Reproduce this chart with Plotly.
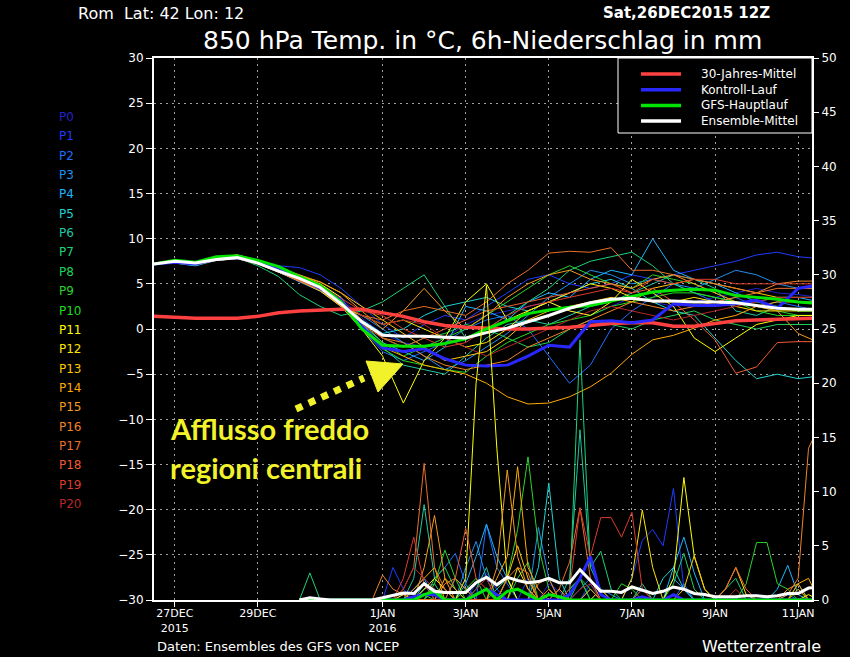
import plotly.graph_objects as go
import pandas as pd

# ---------------- time axes ----------------
temp_times = pd.date_range("2015-12-26 12:00", periods=33, freq="12h")
precip_times = pd.date_range("2015-12-30 00:00", periods=51, freq="6h")

tick_dates = ["2015-12-27", "2015-12-29", "2016-01-01", "2016-01-03",
              "2016-01-05", "2016-01-07", "2016-01-09", "2016-01-11"]
tick_labels = ["27DEC<br>2015", "29DEC", "1JAN<br>2016", "3JAN",
               "5JAN", "7JAN", "9JAN", "11JAN"]

member_names = [f"P{i}" for i in range(21)]
member_colors = ["#2222cc", "#1e3cff", "#1e6eff", "#2090ee", "#1eb4ff", "#1ed2d2",
                 "#1ec8a0", "#1ed278", "#1ed25a", "#2ad22a", "#1edc1e", "#ffff00",
                 "#ffe600", "#ffc800", "#ffaa00", "#f59a1e", "#f08228", "#e8702a",
                 "#f05a32", "#dc3c2c", "#b42828"]

# ---------------- 850 hPa temperature (°C), 12-hourly ----------------
temp_P0 = [7.2,7.4,7.1,7.8,8.0,7.4,6.6,5.5,4.8,3.5,1.2,-0.5,-1.5,-2.0,-1.0,0.5,1.5,2.0,2.5,3.0,2.0,1.5,2.5,3.5,3.0,2.5,3.0,3.5,4.0,4.5,4.0,3.8,3.5]
temp_P1 = [7.2,7.5,7.2,7.9,8.1,7.6,7.0,6.8,6.0,4.5,2.5,0.5,-1.0,0.5,1.5,1.0,2.5,4.0,5.5,6.0,5.0,4.5,5.0,6.0,5.5,6.0,6.5,7.0,7.5,8.2,8.5,8.0,7.8]
temp_P2 = [7.2,7.3,7.0,7.7,7.9,7.3,6.3,5.2,4.2,2.5,0.0,-2.5,-3.5,-2.5,-1.5,0.0,1.0,1.5,0.0,-3.0,-6.0,-4.0,0.0,2.0,3.5,5.0,4.0,3.0,3.5,2.5,3.0,2.5,2.0]
temp_P3 = [7.2,7.6,7.3,7.6,7.8,7.2,6.5,5.8,4.5,3.0,1.5,0.0,-1.5,-3.0,-4.5,-3.5,-2.0,-0.5,1.5,3.5,5.0,6.5,6.0,5.0,5.5,5.0,4.5,5.5,6.5,6.0,5.0,4.5,4.5]
temp_P4 = [7.2,7.5,7.2,7.8,7.9,7.3,6.4,5.4,4.4,2.8,0.5,-1.5,-2.5,-3.5,-2.0,2.5,2.0,1.0,3.0,4.0,3.5,5.5,6.5,6.0,10.0,6.5,5.5,5.0,4.0,3.0,3.5,3.5,3.0]
temp_P5 = [7.2,7.3,7.0,7.6,7.8,7.2,6.3,5.3,4.3,2.5,1.0,-0.5,0.0,1.5,2.5,3.0,3.5,2.5,2.0,3.0,4.0,5.0,5.5,4.5,3.0,2.0,1.5,-1.0,-3.5,-5.5,-5.0,-5.5,-5.2]
temp_P6 = [7.2,7.5,7.3,7.8,8.1,7.5,6.6,5.6,4.6,3.0,0.5,-2.0,-4.0,-4.5,-5.0,-3.0,-1.0,0.5,1.0,0.5,1.5,2.5,3.0,4.0,5.0,6.0,5.5,4.5,2.0,1.5,2.5,2.0,2.0]
temp_P7 = [7.2,7.6,7.4,7.7,7.9,7.0,5.8,3.8,2.5,1.5,2.0,3.0,4.5,6.0,2.5,-1.0,0.0,1.5,3.0,4.5,6.5,7.5,8.0,8.5,7.0,5.0,4.0,3.5,3.0,3.0,2.5,2.0,2.0]
temp_P8 = [7.2,7.4,7.2,7.9,8.1,7.4,6.5,5.7,4.8,3.2,1.0,-1.0,-2.0,-1.0,-0.5,0.5,0.0,-1.0,-2.0,-1.5,0.0,1.0,0.5,0.0,1.0,1.5,2.0,1.0,0.5,0.0,0.5,0.5,0.5]
temp_P9 = [7.2,7.5,7.3,7.7,8.0,7.3,6.4,5.5,4.6,3.0,0.8,-1.5,-3.0,-2.0,-1.0,0.0,1.5,3.0,4.5,6.0,7.0,6.0,5.0,4.5,6.0,5.5,5.0,4.0,3.0,2.5,2.0,1.5,1.5]
temp_P10 = [7.2,7.3,7.1,7.8,8.0,7.4,6.5,5.6,4.5,2.8,0.2,-2.2,-3.5,-4.0,-4.5,-4.8,-3.0,-1.5,-0.5,0.5,1.0,1.5,2.5,3.0,3.5,4.0,4.0,3.5,3.0,2.0,1.5,1.5,1.5]
temp_P11 = [7.2,7.6,7.4,7.9,8.2,7.6,6.7,5.9,5.0,3.5,0.0,-3.0,-8.2,-3.5,-1.0,3.0,5.0,1.0,2.0,3.0,2.0,1.5,3.0,5.5,4.0,2.5,-1.0,-2.5,-1.0,0.5,1.0,1.5,1.5]
temp_P12 = [7.2,7.5,7.3,7.7,8.0,7.3,6.3,5.3,4.2,2.5,1.5,0.5,1.0,0.0,-1.0,-2.0,-1.5,0.0,2.0,3.0,4.0,5.0,4.5,3.5,3.0,3.0,3.5,3.0,2.5,2.0,2.0,2.0,2.0]
temp_P13 = [7.2,7.4,7.2,7.8,7.9,7.3,6.6,5.9,5.2,4.0,2.5,1.0,-0.5,-2.0,-3.5,-3.0,-2.5,-1.0,1.0,2.0,2.5,3.0,3.5,3.0,4.5,5.0,5.5,5.0,4.5,4.0,3.5,3.5,3.5]
temp_P14 = [7.2,7.5,7.3,7.8,8.1,7.5,6.5,5.5,4.4,2.5,0.0,-2.0,-3.0,-4.0,-4.5,-5.0,-6.0,-7.5,-8.3,-8.2,-7.5,-6.4,-4.9,-2.8,-1.2,-0.7,0.1,1.0,1.5,2.5,3.0,3.0,3.0]
temp_P15 = [7.2,7.6,7.4,7.9,8.2,7.6,6.8,6.0,5.2,4.0,2.0,0.0,2.0,4.5,2.0,0.0,1.5,3.5,5.0,6.0,6.5,5.5,5.0,4.5,5.5,6.0,5.0,4.0,3.0,2.5,2.0,-0.5,-1.5]
temp_P16 = [7.2,7.4,7.2,7.8,8.0,7.4,6.5,5.5,4.6,3.2,1.0,-1.0,-1.5,-3.0,-4.0,-4.5,-4.0,-3.5,-2.0,-1.0,0.0,1.0,2.0,3.0,2.5,2.0,2.5,3.0,3.5,4.0,5.0,5.3,5.3]
temp_P17 = [7.2,7.5,7.3,7.7,7.9,7.2,6.3,5.3,4.3,2.8,1.5,1.0,2.0,2.5,2.0,1.5,3.0,5.0,6.5,8.4,8.6,8.5,9.0,6.5,6.5,6.0,5.5,5.0,4.5,4.0,4.5,4.5,4.5]
temp_P18 = [7.2,7.3,7.1,7.6,7.8,7.2,6.4,5.4,4.4,2.6,0.5,-1.0,-2.0,-1.0,0.0,1.0,2.0,2.5,3.0,3.5,4.0,4.5,5.0,4.0,4.5,3.0,1.0,-1.2,-4.9,-4.2,-1.5,-1.4,-1.4]
temp_P19 = [7.2,7.5,7.2,7.8,8.0,7.5,6.6,5.7,4.7,3.4,2.0,1.5,0.0,-1.0,-2.0,-1.5,0.0,1.5,2.5,3.0,3.5,4.0,4.5,4.0,5.5,5.0,5.5,5.5,5.0,5.0,5.0,5.0,5.0]
temp_P20 = [7.2,7.4,7.3,7.9,8.1,7.5,6.7,5.8,4.8,3.0,1.5,0.5,1.0,0.5,-1.0,-2.0,-3.0,-2.0,-1.0,0.0,1.0,2.0,2.5,2.0,1.5,1.0,1.5,2.0,2.5,3.0,3.5,3.5,3.5]

temp_climate = [1.4,1.3,1.2,1.2,1.2,1.4,1.8,2.0,2.1,2.2,2.2,1.8,1.4,0.8,0.4,0.2,0.1,0.0,0.0,0.1,0.2,0.4,0.6,0.7,0.7,0.3,0.3,0.6,0.9,1.0,1.1,1.2,1.2]
temp_control = [7.2,7.4,7.2,7.8,7.9,7.4,6.6,5.7,4.5,3.2,0.3,-2.1,-2.5,-2.2,-3.3,-4.0,-4.1,-4.0,-3.0,-1.8,-2.0,0.8,0.9,0.7,1.0,2.8,2.6,2.6,2.8,3.2,2.3,4.5,4.9]
temp_gfs = [7.2,7.6,7.4,8.0,8.1,7.6,6.9,5.8,4.8,3.0,0.0,-1.8,-1.9,-1.9,-1.6,-1.1,0.0,0.9,1.7,2.1,2.4,2.6,3.1,3.6,4.1,4.3,4.4,4.3,3.7,3.5,3.3,3.0,2.8]
temp_mean = [7.2,7.5,7.3,7.7,7.9,7.3,6.4,5.6,4.6,2.8,0.8,-0.7,-0.8,-0.8,-0.9,-1.0,-0.4,0.1,0.8,1.5,2.3,2.9,3.3,3.4,3.1,3.1,3.0,3.0,2.9,2.6,2.3,2.2,2.2]

# ---------------- 6h precipitation (mm), 6-hourly from 30DEC 00Z ----------------
prec_P0 = [0,0,0,0,0,0,0,0,0,0, 0.5,1.0,2.0,1.0,0,0,0,1.5,2.5,1.0, 0,0,0,0,1.5,0.8,0,0,0,0, 0,0,0,1.0,0,0,0.5,0,0,0, 0,0,0,0,0,0,0,0,0,0,0]
prec_P1 = [0,0,0,0,0,0,0,0,0,3.0, 1.0,0,0,0,0,0,0,1.0,2.0,1.0, 0,0,2.0,1.0,0,0,0,0,1.5,0, 0,0,2.0,5.5,6.5,5.0,10.3,1.0,0,0, 0,0,0,0,0.5,0,0,0,0,0,0]
prec_P2 = [0,0,0,0,0,0,0,0,0,0, 0,0,1.0,2.0,3.0,4.3,1.5,0,7.0,3.0, 1.5,0,0,0,0,0,0,1.0,2.0,0, 0,0,0,0,0,0,0,1.5,0,0, 0,0,0,0,0,0,0,0.5,0,0,0]
prec_P3 = [0,0,0,0,0,0,0,0,0,0, 0,0,0,1.0,0,0,3.0,5.4,2.0,0, 0,0,0,6.7,2.0,0,0,0,0,1.0, 0.5,0,0,0,0,0,2.0,1.0,0,0, 0,0,0,0,0,0,0,0,0,0,0]
prec_P4 = [0,0,0,0,0,0,0,0,0,0, 0,1.0,2.0,0,0,0,1.5,4.0,7.0,4.0, 2.0,0,0,0,0,0,1.0,2.0,0,0, 0,0,0,0,0,0,3.0,5.8,2.5,0, 0,0,0,0,0,0,1.0,3.2,0.5,0,0]
prec_P5 = [0,0,0,0,0,0,0,0,0,0, 0,0,1.5,1.0,0,2.0,1.0,0,0,0, 0,0,0,3.0,10.8,2.0,0,0,1.0,0, 0,0,0,0,0,2.0,3.0,1.0,0,0, 0,0,0,0,0,0,0,0,0,0,0]
prec_P6 = [0,0,0,0,0,0,0,0,0,0, 0,2.0,8.8,2.0,1.0,0,0,1.0,3.0,0, 0,0,0,0,0,0,2.0,15.7,3.0,1.0, 0,0,0,1.5,0,0,0,0,0,0, 0,0,0,0,0,0,0,0,0,0,0]
prec_P7 = [0,2.5,0,0,0,0,0,0,0,0, 0,0,1.0,1.5,0,0,0,0,0,1.0, 2.0,0,0,0,0,0,0.5,24.0,3.0,4.5, 1.0,0,0,0,0,0,0,0,0,0, 0,1.0,2.0,0,0,0,0,0,0,0,0]
prec_P8 = [0,0,0,0,0,0,0,0,0,0, 0,0,0,2.0,3.0,1.0,0,0,0,0, 0,2.0,3.5,0,0,0,0,2.0,1.0,0, 0,0,0,0,0,0,1.5,4.3,1.0,0, 0,0,0,0,0,0,0,0,1.5,0,0]
prec_P9 = [0,0,0,0,0,0,0,0,0,0, 0,0,0,1.5,4.6,2.0,0,0,0,0, 2.0,6.5,13.2,5.0,1.0,0,0,0,0,0, 0,0,0,0,0,0,0,0,0,0, 0,0,0,1.5,5.3,5.3,1.5,1.0,0,0,0]
prec_P10 = [0,0,0,0,0,0,0,0,0,0, 0,0,0.5,0,0,0,1.0,2.0,0,0, 0,0,0,0,0,0,1.0,2.0,0,0, 0,1.5,1.0,0,0,0,0,0,0,0, 0,0,0,0,0,0,0,0,0,0,0]
prec_P11 = [0,0,0,0,0,0,0,0,0,0, 0.5,0,0,0,0,0,2.0,20.0,29.0,14.0, 2.0,0,0,0,1.0,0,0,0,0,0, 0,0,0,0,0,0,2.0,11.3,4.0,1.0, 0,0,0,0,0,0,0,0,0,0.5,0]
prec_P12 = [0,0,0,0,0,0,0,0,0,0, 0,0,1.0,2.0,1.0,0,0,0,0,0, 0,3.0,1.0,0,0,0,0,0,0,0, 0,0,2.0,8.3,3.0,0,0,0,0,0, 0,1.0,3.0,0.5,0,0,0,0,0,0,0]
prec_P13 = [0,0,0,0,0,0,0,0,0,0, 0,0,0,0,2.0,1.0,0,0,0,0, 2.0,5.0,2.0,0,0,0,0,0,0,1.0, 0,0,0,0,0,0,0,1.0,4.1,1.0, 0,0,0,0,0,0,0,0,1.0,0,0]
prec_P14 = [0,0,0,0,0,0,0,0,0,0, 0,1.0,2.0,3.0,0,0,0,0,0,2.0, 4.0,12.3,3.0,1.0,0,1.0,0,0,0,0, 0,0,0,0,0,0,0,0,0,0, 0,0,0,0,0,0,0,0,1.5,2.0,0]
prec_P15 = [0,0,0,0,0,0,0,0,0,0, 0,0,3.0,7.8,2.0,0,0,0,0,3.0, 12.0,4.0,1.0,0,0,0,0,0,1.0,0, 0,0,0,0,0,0,0,0,0,0, 0,0,0,0,0,0,0,1.0,1.5,0,0]
prec_P16 = [0,0,0,0,0,0,0,0,2.3,1.0, 0.5,0,0,0,1.5,2.0,1.0,0,0,0, 0,0,0,1.5,2.0,0,0,0,0,0, 0,0,0,0,0,0,0,0,0,0, 0,0,0,0,0,0,0,0.5,2.0,14.0,16.0]
prec_P17 = [0,0,0,0,0,0,0,0,0,0, 1.0,3.0,12.6,3.0,1.0,0,0,0,0,0, 2.0,3.0,2.5,0,0,1.0,3.5,8.5,2.0,0, 0,0,0,1.0,0,0,0,0,0,0, 0,0,0,0,0,0,0,0,0,0,0]
prec_P18 = [0,0,0,0,0,0,0,0,0,0, 0,0,0,0,0,2.0,6.6,2.0,1.0,0, 0,0,0,0,1.0,0,0,0,0,0, 0,0,0,0,0,0,0,0,0,0, 0,1.0,3.0,1.0,0,0,0,0,0,0,0]
prec_P19 = [0,0,0,0,0,0,0,0,0,0, 2.0,5.8,1.5,0,0,0,0,0,0,0, 0,0,0,0,0,0,1.0,8.5,4.0,7.6, 7.6,5.8,8.1,1.0,0,0,0,0,0,0, 0,0,0,0,0,0,0,0,0,0,0]
prec_P20 = [0,0,0,0,0,0,0,0,0,0, 1.0,3.0,2.0,1.0,0,0,0,1.0,2.0,0, 0,0,0,0,0,0,0,1.0,1.5,0, 0,0,0,0,0,0,0,0,0,0, 0,0,1.0,0,0,0,0,0,0,0,0]

prec_control = [0,0,0,0,0,0,0,0,0,0, 0,0.3,0.5,0.5,0,0,0,0.5,1.0,0.5, 0,0,0,0,0,0,0.5,2.0,4.0,0.5, 0,0,0,0.3,0,0,0.5,0,0,0, 0,0,0,0,0,0,0,0,0,0,0]
prec_gfs = [0,0,0,0,0,0,0,0,0,0, 0,0,0.5,0.8,0,0,0,0.5,1.0,0, 0.8,1.0,0.5,0,0.5,0.3,0,0,0,0, 0,0,0,0,0,0,0,0,0,0, 0,0,0,0,0,0,0,0,0,0,0]
prec_mean = [0,0.2,0.1,0,0,0,0,0,0.2,0.4, 0.65,0.6,1.5,0.8,0.7,0.7,0.7,1.6,2.1,1.4, 2.1,1.8,1.6,1.7,2.0,1.6,1.6,2.8,1.8,0.8, 0.8,0.7,1.2,0.9,0.6,0.8,1.2,1.0,0.6,0.5, 0.3,0.3,0.3,0.4,0.4,0.3,0.4,0.6,0.6,1.1,1.2]

members_temp = [temp_P0, temp_P1, temp_P2, temp_P3, temp_P4, temp_P5, temp_P6, temp_P7,
                temp_P8, temp_P9, temp_P10, temp_P11, temp_P12, temp_P13, temp_P14,
                temp_P15, temp_P16, temp_P17, temp_P18, temp_P19, temp_P20]
members_prec = [prec_P0, prec_P1, prec_P2, prec_P3, prec_P4, prec_P5, prec_P6, prec_P7,
                prec_P8, prec_P9, prec_P10, prec_P11, prec_P12, prec_P13, prec_P14,
                prec_P15, prec_P16, prec_P17, prec_P18, prec_P19, prec_P20]

legend_names = ["30-Jahres-Mittel", "Kontroll-Lauf", "GFS-Hauptlauf", "Ensemble-Mittel"]
legend_colors = ["#ff4040", "#2828ff", "#00e600", "#ffffff"]

# ---------------- figure ----------------
W, H = 850, 657
L, R, T, B = 154, 812, 58, 600
def fx(px):
    return (px - L) / (R - L)
def fy(py):
    return (B - py) / (B - T)

fig = go.Figure()

for name, col, tv in zip(member_names, member_colors, members_temp):
    fig.add_trace(go.Scatter(x=temp_times, y=tv, mode="lines", name=name,
                             line=dict(color=col, width=1), hoverinfo="skip"))
for name, col, pv in zip(member_names, member_colors, members_prec):
    fig.add_trace(go.Scatter(x=precip_times, y=pv, mode="lines", name=name + " RR",
                             line=dict(color=col, width=1), yaxis="y2", hoverinfo="skip"))

fig.add_trace(go.Scatter(x=temp_times, y=temp_climate, mode="lines", name=legend_names[0],
                         line=dict(color=legend_colors[0], width=3.5), hoverinfo="skip"))
fig.add_trace(go.Scatter(x=temp_times, y=temp_control, mode="lines", name=legend_names[1],
                         line=dict(color=legend_colors[1], width=3), hoverinfo="skip"))
fig.add_trace(go.Scatter(x=temp_times, y=temp_gfs, mode="lines", name=legend_names[2],
                         line=dict(color=legend_colors[2], width=3), hoverinfo="skip"))
fig.add_trace(go.Scatter(x=temp_times, y=temp_mean, mode="lines", name=legend_names[3],
                         line=dict(color=legend_colors[3], width=3), hoverinfo="skip"))
fig.add_trace(go.Scatter(x=precip_times, y=prec_control, mode="lines", yaxis="y2",
                         line=dict(color=legend_colors[1], width=3), hoverinfo="skip"))
fig.add_trace(go.Scatter(x=precip_times, y=prec_gfs, mode="lines", yaxis="y2",
                         line=dict(color=legend_colors[2], width=3), hoverinfo="skip"))
fig.add_trace(go.Scatter(x=precip_times, y=prec_mean, mode="lines", yaxis="y2",
                         line=dict(color=legend_colors[3], width=3), hoverinfo="skip"))

FONT = "DejaVu Sans"
axis_font = dict(family=FONT, size=11, color="white")

fig.update_layout(
    width=W, height=H, autosize=False,
    paper_bgcolor="black", plot_bgcolor="black",
    margin=dict(l=L, r=W - R, t=T, b=H - B, pad=0, autoexpand=False),
    showlegend=False,
    xaxis=dict(type="date", range=["2015-12-26 12:00", "2016-01-11 08:00"],
               tickvals=tick_dates, ticktext=tick_labels, tickangle=0,
               showgrid=True, gridcolor="#a0a0a0", gridwidth=1, griddash="2px,4px",
               showline=True, linecolor="white", linewidth=2, mirror=True,
               ticks="outside", ticklen=5, tickcolor="white", tickwidth=1,
               ticklabelstandoff=-3,
               tickfont=axis_font, zeroline=False),
    yaxis=dict(range=[-30, 30], tickvals=list(range(-30, 31, 5)),
               showgrid=True, gridcolor="#a0a0a0", gridwidth=1, griddash="2px,4px",
               showline=True, linecolor="white", linewidth=2, mirror=True,
               ticks="outside", ticklen=6, tickcolor="white", tickwidth=1,
               tickfont=dict(family=FONT, size=12, color="white"), zeroline=False),
    yaxis2=dict(range=[0, 50], tickvals=list(range(0, 51, 5)), overlaying="y", side="right",
                showgrid=False, showline=False, zeroline=False,
                ticks="outside", ticklen=6, tickcolor="white", tickwidth=1,
                tickfont=dict(family=FONT, size=12, color="white")),
)

shapes = []
annotations = []

# legend box (drawn above traces)
shapes.append(dict(type="rect", xref="paper", yref="paper", layer="above",
                   x0=fx(618), x1=fx(812), y0=fy(133), y1=fy(58),
                   fillcolor="black", line=dict(color="white", width=1)))
for k, (nm, col) in enumerate(zip(legend_names, legend_colors)):
    yy = 74 + k * 15.7
    shapes.append(dict(type="line", xref="paper", yref="paper", layer="above",
                       x0=fx(641), x1=fx(681), y0=fy(yy), y1=fy(yy),
                       line=dict(color=col, width=3.5)))
    annotations.append(dict(text=nm, xref="paper", yref="paper", x=fx(699), y=fy(yy),
                            xanchor="left", yanchor="middle", showarrow=False,
                            font=dict(family=FONT, size=12, color="white")))

# member labels on the left
for k, (nm, col) in enumerate(zip(member_names, member_colors)):
    annotations.append(dict(text=nm, xref="paper", yref="paper", x=fx(57), y=fy(117 + 19.35 * k),
                            xanchor="left", yanchor="middle", showarrow=False,
                            font=dict(family=FONT, size=12, color=col)))

# header texts
annotations.append(dict(text="Rom  Lat: 42 Lon: 12", xref="paper", yref="paper",
                        x=fx(77), y=fy(14), xanchor="left", yanchor="middle", showarrow=False,
                        borderpad=0, font=dict(family=FONT, size=16, color="white")))
annotations.append(dict(text="Sat,26DEC2015 12Z", xref="paper", yref="paper",
                        x=fx(771), y=fy(13), xanchor="right", yanchor="middle", showarrow=False,
                        borderpad=0, font=dict(family=FONT, size=15, color="white", weight=700)))
annotations.append(dict(text="850 hPa Temp. in °C, 6h-Niederschlag in mm", xref="paper", yref="paper",
                        x=fx(482), y=fy(40), xanchor="center", yanchor="middle", showarrow=False,
                        borderpad=0, font=dict(family=FONT, size=25, color="white")))
annotations.append(dict(text="Daten: Ensembles des GFS von NCEP", xref="paper", yref="paper",
                        x=fx(155), y=fy(646), xanchor="left", yanchor="middle", showarrow=False,
                        font=dict(family=FONT, size=13, color="white")))
annotations.append(dict(text="Wetterzentrale", xref="paper", yref="paper",
                        x=fx(823), y=fy(646), xanchor="right", yanchor="middle", showarrow=False,
                        font=dict(family=FONT, size=16, color="white")))

# yellow comment with dotted arrow
YEL = "#f2f22a"
annotations.append(dict(text="Afflusso freddo", xref="paper", yref="paper",
                        x=fx(168), y=fy(429), xanchor="left", yanchor="middle", showarrow=False,
                        font=dict(family="Lato", size=29, color=YEL, weight=700)))
annotations.append(dict(text="regioni centrali", xref="paper", yref="paper",
                        x=fx(168), y=fy(467), xanchor="left", yanchor="middle", showarrow=False,
                        font=dict(family="Lato", size=29, color=YEL, weight=700)))
shapes.append(dict(type="line", xref="paper", yref="paper", layer="above",
                   x0=fx(296), y0=fy(409), x1=fx(364), y1=fy(378),
                   line=dict(color=YEL, width=7, dash="7px,7px")))
tri = [(366, 361), (403, 364), (378, 392)]
path = "M {} {} L {} {} L {} {} Z".format(*[v for p in tri for v in (fx(p[0]), fy(p[1]))])
shapes.append(dict(type="path", xref="paper", yref="paper", layer="above", path=path,
                   fillcolor=YEL, line=dict(color=YEL, width=1)))

fig.update_layout(shapes=shapes, annotations=annotations)

fig.write_html("out.html",
               config={"displayModeBar": False},
               post_script="document.body.style.margin='0';document.body.style.overflow='hidden';"
                           "document.body.style.background='black';")
